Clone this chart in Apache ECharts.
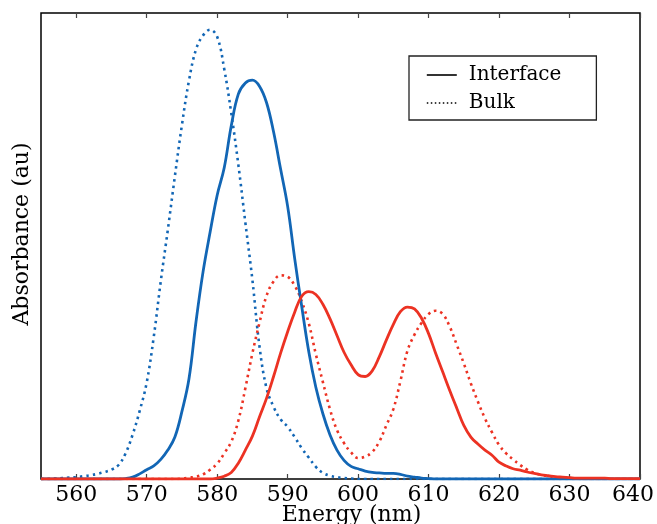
<!DOCTYPE html>
<html>
<head>
<meta charset="utf-8">
<script src="https://cdn.jsdelivr.net/npm/echarts@6/dist/echarts.min.js"></script>
<style>
  html, body { margin: 0; padding: 0; background: #fff; }
  #chart1 { width: 657px; height: 524px; }
</style>
</head>
<body>
<div id="chart1"></div>
<script>
// wavelength grid (nm)
let wavelength = [
    555, 556, 557, 558, 559, 560, 561, 562, 563, 564,
    565, 566, 567, 568, 569, 570, 571, 572, 573, 574,
    575, 576, 577, 578, 579, 580, 581, 582, 583, 584,
    585, 586, 587, 588, 589, 590, 591, 592, 593, 594,
    595, 596, 597, 598, 599, 600, 601, 602, 603, 604,
    605, 606, 607, 608, 609, 610, 611, 612, 613, 614,
    615, 616, 617, 618, 619, 620, 621, 622, 623, 624,
    625, 626, 627, 628, 629, 630, 631, 632, 633, 634,
    635, 636, 637, 638, 639, 640
];

// interface, blue
let interfaceBlue = [
    0, 0, 0, 0, 0, 0, 0, 0, 0, 0,
    0, 0, 0.001, 0.004, 0.011, 0.02, 0.028, 0.042, 0.062, 0.09,
    0.145, 0.215, 0.338, 0.445, 0.53, 0.609, 0.668, 0.758, 0.826, 0.85,
    0.856, 0.843, 0.808, 0.745, 0.665, 0.585, 0.473, 0.37, 0.273, 0.197,
    0.14, 0.095, 0.062, 0.04, 0.027, 0.022, 0.017, 0.014, 0.013, 0.012,
    0.012, 0.01, 0.006, 0.004, 0.002, 0.001, 0, 0, 0, 0,
    0, 0, 0, 0, 0, 0, 0, 0, 0, 0,
    0, 0, 0, 0, 0, 0, 0, 0, 0, 0,
    0, 0, 0, 0, 0, 0
];

// bulk, blue
let bulkBlue = [
    0, 0, 0.001, 0.002, 0.003, 0.004, 0.006, 0.008, 0.011, 0.015,
    0.02, 0.03, 0.055, 0.095, 0.146, 0.207, 0.305, 0.425, 0.535, 0.65,
    0.76, 0.855, 0.922, 0.952, 0.964, 0.949, 0.88, 0.785, 0.675, 0.55,
    0.427, 0.285, 0.195, 0.155, 0.128, 0.112, 0.09, 0.066, 0.046, 0.026,
    0.013, 0.007, 0.004, 0.002, 0.001, 0, 0, 0, 0, 0,
    0, 0, 0, 0, 0, 0, 0, 0, 0, 0,
    0, 0, 0, 0, 0, 0, 0, 0, 0, 0,
    0, 0, 0, 0, 0, 0, 0, 0, 0, 0,
    0, 0, 0, 0, 0, 0
];

// interface, red
let interfaceRed = [
    0, 0, 0, 0, 0, 0, 0, 0, 0, 0,
    0, 0, 0, 0, 0, 0, 0, 0, 0, 0,
    0, 0, 0, 0, 0, 0.002, 0.006, 0.014, 0.034, 0.062,
    0.092, 0.133, 0.173, 0.22, 0.27, 0.316, 0.358, 0.392, 0.402, 0.396,
    0.375, 0.344, 0.308, 0.272, 0.245, 0.224, 0.22, 0.232, 0.262, 0.298,
    0.332, 0.359, 0.369, 0.365, 0.345, 0.312, 0.27, 0.23, 0.19, 0.152,
    0.115, 0.09, 0.075, 0.062, 0.051, 0.036, 0.028, 0.022, 0.019, 0.015,
    0.012, 0.009, 0.007, 0.005, 0.004, 0.003, 0.002, 0.002, 0.002, 0.002,
    0.002, 0.001, 0.001, 0.001, 0.001, 0.001
];

// bulk, red
let bulkRed = [
    0, 0, 0, 0, 0, 0, 0, 0, 0, 0,
    0, 0, 0, 0, 0, 0, 0, 0, 0, 0,
    0.001, 0.003, 0.005, 0.01, 0.02, 0.033, 0.055, 0.08, 0.125, 0.195,
    0.27, 0.335, 0.393, 0.424, 0.437, 0.434, 0.415, 0.381, 0.334, 0.268,
    0.208, 0.15, 0.105, 0.077, 0.057, 0.045, 0.048, 0.058, 0.08, 0.115,
    0.15, 0.21, 0.275, 0.31, 0.335, 0.354, 0.361, 0.354, 0.327, 0.288,
    0.248, 0.205, 0.166, 0.13, 0.1, 0.073, 0.055, 0.042, 0.03, 0.02,
    0.013, 0.009, 0.006, 0.004, 0.003, 0.002, 0.001, 0, 0, 0,
    0, 0, 0, 0, 0, 0
];

// x 轴刻度
let tickValues = [560, 570, 580, 590, 600, 610, 620, 630, 640];

let blue = '#1266b5';
let red = '#ec3223';
let font = 'DejaVu Serif';

function pairs(values) {
    return wavelength.map(function (w, i) { return [w, values[i]]; });
}

function line(name, color, values, dotted) {
    return {
        name: name,
        type: 'line',
        smooth: 0.4,
        symbol: 'none',
        showSymbol: false,
        xAxisIndex: 0,
        lineStyle: {
            color: color,
            width: dotted ? 2.6 : 2.8,
            type: dotted ? [2.5, 4] : 'solid'
        },
        itemStyle: { color: color },
        data: pairs(values)
    };
}

let chart1 = echarts.init(document.getElementById('chart1'));

let option = {
    backgroundColor: '#fff',
    animation: false,
    textStyle: { fontFamily: font, color: '#000' },
    grid: {
        left: 41, right: 17, top: 13, bottom: 45,
        containLabel: false,
        outerBoundsMode: 'none',
        show: true,
        borderColor: '#000',
        borderWidth: 1.5,
        backgroundColor: 'transparent'
    },
    legend: {
        orient: 'vertical',
        left: 409,
        top: 56,
        padding: [9, 35, 7, 17],
        itemWidth: 30,
        itemHeight: 14,
        itemGap: 8,
        backgroundColor: '#fff',
        borderColor: '#222',
        borderWidth: 1.3,
        borderRadius: 0,
        selectedMode: false,
        textStyle: {
            fontFamily: font,
            fontSize: 20,
            lineHeight: 20,
            color: '#000',
            padding: [0, 0, 0, 7]
        },
        data: [{
            name: 'Interface',
            itemStyle: { opacity: 0 },
            lineStyle: { color: '#000', width: 1.6, type: 'solid' }
        }, {
            name: 'Bulk',
            itemStyle: { opacity: 0 },
            lineStyle: { color: '#000', width: 1.6, type: [1.5, 2.5] }
        }]
    },
    xAxis: [{
        type: 'value',
        position: 'bottom',
        min: 555,
        max: 640,
        name: 'Energy (nm)',
        nameLocation: 'middle',
        nameGap: 25,
        nameMoveOverlap: false,
        nameTextStyle: {
            fontFamily: font, fontSize: 22, color: '#000',
            padding: [0, 0, 0, 22]
        },
        axisLine: { show: false },
        axisTick: {
            show: true,
            inside: true,
            length: 5,
            customValues: tickValues,
            lineStyle: { color: '#444', width: 1.2 }
        },
        axisLabel: {
            show: true,
            margin: 5,
            customValues: tickValues,
            fontFamily: font,
            fontSize: 22,
            color: '#000',
            formatter: function (v) {
                return v === 640 ? '{last|' + v + '}' : String(v);
            },
            rich: {
                last: { fontFamily: font, fontSize: 22, color: '#000', padding: [0, 14, 0, 0] }
            }
        },
        splitLine: { show: false }
    }, {
        type: 'value',
        position: 'top',
        min: 555,
        max: 640,
        axisLine: { show: false },
        axisTick: {
            show: true,
            inside: true,
            length: 5,
            customValues: tickValues,
            lineStyle: { color: '#444', width: 1.2 }
        },
        axisLabel: { show: false },
        splitLine: { show: false }
    }],
    yAxis: {
        type: 'value',
        min: 0,
        max: 1,
        name: 'Absorbance (au)',
        nameLocation: 'middle',
        nameGap: 8,
        nameMoveOverlap: false,
        nameTextStyle: {
            fontFamily: font, fontSize: 22, color: '#000',
            padding: [0, 0, 0, 24]
        },
        axisLine: { show: false },
        axisTick: { show: false },
        axisLabel: { show: false },
        splitLine: { show: false }
    },
    series: [
        line('Bulk', blue, bulkBlue, true),
        line('Bulk', red, bulkRed, true),
        line('Interface', blue, interfaceBlue, false),
        line('Interface', red, interfaceRed, false)
    ]
};

window.onresize = chart1.resize;
chart1.setOption(option);
</script>
</body>
</html>
